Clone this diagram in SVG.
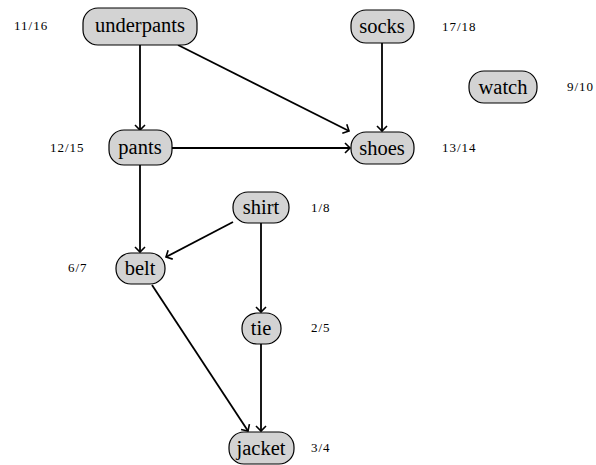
<svg xmlns="http://www.w3.org/2000/svg" width="596" height="465" viewBox="0 0 596 465">
<style>
.n rect{fill:#d3d3d3;stroke:#000;stroke-width:1.2}
.n text{font-family:"Liberation Serif","DejaVu Serif",serif;font-size:20.5px;text-anchor:middle;fill:#000}
.lab{font-family:"Liberation Serif","DejaVu Serif",serif;font-size:13px;letter-spacing:1px;fill:#000}
.e line{stroke:#000;stroke-width:1.8;fill:none;marker-end:url(#a)}
</style>
<defs>
<marker id="a" viewBox="-6 -6 8 12" markerWidth="8" markerHeight="12" refX="0" refY="0" orient="auto" markerUnits="userSpaceOnUse">
<path d="M-5,-5 L0,0 L-5,5" fill="none" stroke="#000" stroke-width="1.6"/>
</marker>
</defs>
<g class="e" id="edges">
<line x1="140" y1="45" x2="140" y2="130"/>
<line x1="178" y1="45" x2="349" y2="131"/>
<line x1="382" y1="43" x2="382" y2="131"/>
<line x1="172" y1="148" x2="350" y2="148"/>
<line x1="140" y1="165" x2="140" y2="252"/>
<line x1="233" y1="222" x2="166" y2="257"/>
<line x1="261" y1="223" x2="261" y2="312"/>
<line x1="152" y1="285" x2="248" y2="431"/>
<line x1="261" y1="344" x2="261" y2="431"/>
</g>
<g class="n" id="underpants"><rect x="83" y="8" width="114" height="37" rx="15"/><text x="140" y="32">underpants</text></g>
<g class="n" id="socks"><rect x="351" y="10" width="63" height="33" rx="15"/><text x="382" y="33">socks</text></g>
<g class="n" id="watch"><rect x="469" y="71" width="68" height="32" rx="15"/><text x="503" y="94">watch</text></g>
<g class="n" id="pants"><rect x="109" y="130" width="63" height="35" rx="15"/><text x="140" y="154">pants</text></g>
<g class="n" id="shoes"><rect x="351" y="132" width="63" height="32" rx="15"/><text x="382" y="155">shoes</text></g>
<g class="n" id="shirt"><rect x="233" y="192" width="56" height="31" rx="15"/><text x="261" y="214">shirt</text></g>
<g class="n" id="belt"><rect x="116" y="253" width="49" height="31" rx="15"/><text x="140" y="275">belt</text></g>
<g class="n" id="tie"><rect x="242" y="313" width="39" height="31" rx="15"/><text x="261" y="335">tie</text></g>
<g class="n" id="jacket"><rect x="229" y="432" width="65" height="32" rx="15"/><text x="261" y="455">jacket</text></g>
<g id="labels">
<text class="lab" x="14" y="30">11/16</text>
<text class="lab" x="442" y="31">17/18</text>
<text class="lab" x="567" y="91">9/10</text>
<text class="lab" x="50" y="152">12/15</text>
<text class="lab" x="442" y="152">13/14</text>
<text class="lab" x="311" y="212">1/8</text>
<text class="lab" x="68" y="272">6/7</text>
<text class="lab" x="311" y="332">2/5</text>
<text class="lab" x="311" y="452">3/4</text>
</g>
</svg>
